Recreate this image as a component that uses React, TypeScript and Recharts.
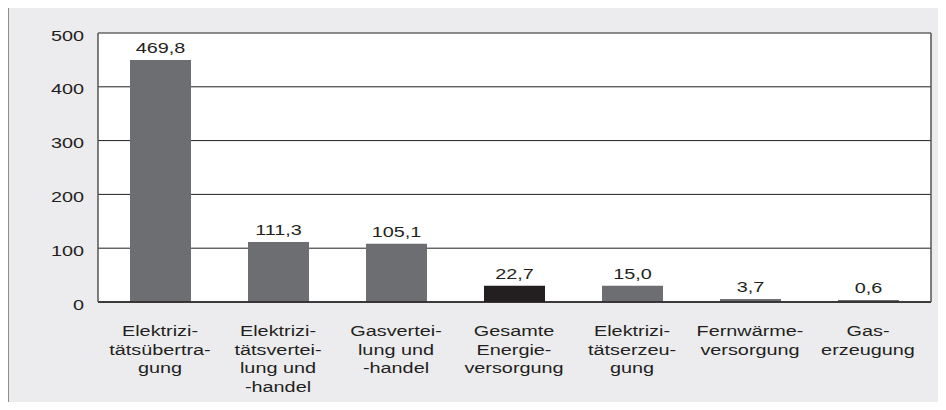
import { BarChart, Bar, XAxis, YAxis, CartesianGrid, Cell, LabelList } from "recharts"

// category names as printed, with the original hyphenation
const categories = [
  "Elektrizi-\ntätsübertra-\ngung",
  "Elektrizi-\ntätsvertei-\nlung und\n-handel",
  "Gasvertei-\nlung und\n-handel",
  "Gesamte\nEnergie-\nversorgung",
  "Elektrizi-\ntätserzeu-\ngung",
  "Fernwärme-\nversorgung",
  "Gas-\nerzeugung",
]
// values printed above the bars
const valueLabels = ["469,8", "111,3", "105,1", "22,7", "15,0", "3,7", "0,6"]
// bar heights as drawn in the source (the small bars are drawn with a minimum height)
const barHeights = [450, 111.5, 108.5, 30, 30, 5.5, 3.5]
const yTicks = [0, 100, 200, 300, 400, 500]

const highlight = "Gesamte\nEnergie-\nversorgung"

const data = categories.map((c, i) => ({ name: c, value: barHeights[i], label: valueLabels[i] }))

const FONT = "'Liberation Sans', Arial, sans-serif"
const INK = "#231F20"
const STRETCH = 1.28
const FS = 15.5

const XTick = (props: any) => {
  const { x, y, payload } = props
  const lines = String(payload.value).split("\n")
  return (
    <g transform={`translate(${x},${y + 26}) scale(${STRETCH},1)`}>
      <text textAnchor="middle" fontFamily={FONT} fontSize={FS} fill={INK}>
        {lines.map((l, i) => (
          <tspan key={i} x={0} dy={i === 0 ? 0 : 18.7}>
            {l}
          </tspan>
        ))}
      </text>
    </g>
  )
}

const YTick = (props: any) => {
  const { x, y, payload } = props
  return (
    <g transform={`translate(${x - 6},${y + 7.5}) scale(${STRETCH},1)`}>
      <text textAnchor="end" fontFamily={FONT} fontSize={FS} fill={INK}>
        {payload.value}
      </text>
    </g>
  )
}

const ValueLabel = (props: any) => {
  const { x, y, width, value } = props
  return (
    <g transform={`translate(${x + width / 2},${y - 7}) scale(${STRETCH},1)`}>
      <text textAnchor="middle" fontFamily={FONT} fontSize={FS} fill={INK}>
        {value}
      </text>
    </g>
  )
}

export default function App() {
  return (
    <div style={{ position: "relative", width: 946, height: 410, margin: -8, background: "#fff" }}>
      <div
        style={{
          position: "absolute",
          left: 7,
          top: 6,
          right: 0,
          bottom: 0,
          background: "#ECECEE",
          borderTop: "2px solid #8E8E8E",
          borderLeft: "2px solid #8E8E8E",
        }}
      />
      <div style={{ position: "absolute", left: 0, top: 0 }}>
        <BarChart width={946} height={410} data={data} margin={{ top: 33, right: 0, bottom: 0, left: 0 }}>
          <CartesianGrid vertical={false} stroke={INK} strokeOpacity={1} fill="#fff" fillOpacity={1} />
          <XAxis
            dataKey="name"
            height={108}
            interval={0}
            tickLine={false}
            axisLine={{ stroke: INK, strokeWidth: 1.5 }}
            padding={{ left: 3, right: 4 }}
            tick={<XTick />}
          />
          <YAxis
            width={98}
            domain={[0, 500]}
            ticks={yTicks}
            tickLine={false}
            axisLine={{ stroke: "#555", strokeWidth: 1.5 }}
            tick={<YTick />}
          />
          <YAxis
            yAxisId="right"
            orientation="right"
            width={15}
            domain={[0, 500]}
            tick={false}
            tickLine={false}
            axisLine={{ stroke: "#555", strokeWidth: 1.5 }}
          />
          <Bar dataKey="value" barSize={61} isAnimationActive={false}>
            {data.map((d, i) => (
              <Cell key={i} fill={d.name === highlight ? INK : "#6D6E71"} />
            ))}
            <LabelList dataKey="label" content={<ValueLabel />} />
          </Bar>
        </BarChart>
      </div>
    </div>
  )
}
